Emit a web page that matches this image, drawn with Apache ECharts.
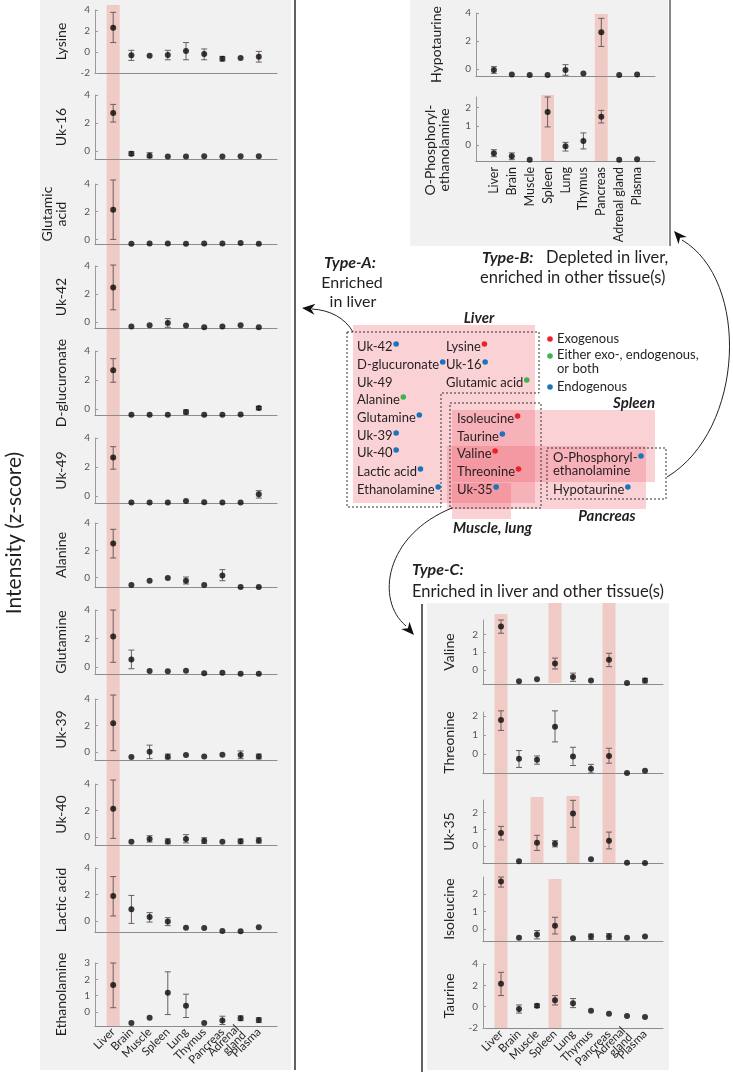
<!DOCTYPE html>
<html><head><meta charset="utf-8">
<script src="https://cdn.jsdelivr.net/npm/echarts@6/dist/echarts.min.js"></script>
<style>html,body{margin:0;padding:0;background:#fff}#c{width:733px;height:1074px}</style>
</head><body><div id="c"></div>
<script>
// ---------------- DATA ----------------
const tissues = ['Liver','Brain','Muscle','Spleen','Lung','Thymus','Pancreas','Adrenal gland','Plasma'];
const tissuesWrapped = ['Liver','Brain','Muscle','Spleen','Lung','Thymus','Pancreas','Adrenal\ngland','Plasma'];

// Type-A (enriched in liver)
const lysine = [2.3,-0.32,-0.35,-0.29,0.1,-0.19,-0.64,-0.58,-0.45];
const lysineErr = [[0.9,3.78],[-0.8,0.16],null,[-0.74,0.16],[-0.74,0.9],[-0.74,0.29],[-0.86,-0.42],null,[-0.96,0.06]];
const uk16 = [2.71,-0.19,-0.33,-0.4,-0.4,-0.38,-0.4,-0.38,-0.38];
const uk16Err = [[2.07,3.33],[-0.33,-0.05],[-0.48,-0.12],null,null,null,null,null,null];
const glutamicAcid = [2.14,-0.31,-0.29,-0.29,-0.31,-0.29,-0.29,-0.26,-0.31];
const glutamicAcidErr = [[0,4.29],null,null,null,null,null,null,null,null];
const uk42 = [2.47,-0.33,-0.24,-0.07,-0.26,-0.38,-0.33,-0.24,-0.38];
const uk42Err = [[0.87,4.07],null,null,[-0.38,0.24],null,null,null,null,null];
const dGlucuronate = [2.67,-0.41,-0.41,-0.41,-0.23,-0.41,-0.41,-0.39,0.05];
const dGlucuronateErr = [[1.84,3.47],null,null,null,[-0.37,-0.07],null,null,null,[-0.07,0.16]];
const uk49 = [2.66,-0.44,-0.44,-0.44,-0.35,-0.42,-0.44,-0.44,0.12];
const uk49Err = [[1.85,3.4],null,null,null,null,null,null,null,[-0.14,0.37]];
const alanine = [2.51,-0.54,-0.22,-0.02,-0.22,-0.54,0.17,-0.68,-0.68];
const alanineErr = [[1.44,3.54],null,null,null,[-0.46,0.05],null,[-0.22,0.59],null,null];
const glutamine = [2.14,0.53,-0.28,-0.3,-0.26,-0.44,-0.4,-0.47,-0.47];
const glutamineErr = [[0.33,4.0],[-0.12,1.19],null,null,null,null,null,null,null];
const uk39 = [2.18,-0.38,0.02,-0.35,-0.22,-0.33,-0.2,-0.22,-0.33];
const uk39Err = [[0.1,4.3],null,[-0.5,0.52],[-0.52,-0.15],null,null,null,[-0.5,0.08],[-0.52,-0.15]];
const uk40 = [2.13,-0.36,-0.15,-0.33,-0.15,-0.28,-0.36,-0.31,-0.26];
const uk40Err = [[-0.1,4.3],null,[-0.38,0.1],[-0.51,-0.13],[-0.44,0.18],[-0.49,-0.05],null,[-0.51,-0.15],[-0.46,-0.05]];
const lacticAcid = [1.88,0.88,0.3,-0.03,-0.5,-0.53,-0.75,-0.78,-0.48];
const lacticAcidErr = [[0.38,3.35],[-0.18,1.93],[-0.08,0.63],[-0.35,0.25],null,null,null,null,null];
const ethanolamine = [1.65,-0.67,-0.36,1.17,0.38,-0.67,-0.53,-0.38,-0.5];
const ethanolamineErr = [[0.26,3.0],null,null,[-0.16,2.46],[-0.34,1.09],null,[-0.77,-0.26],[-0.53,-0.24],[-0.65,-0.36]];

// Type-B (depleted in liver)
const hypotaurine = [-0.07,-0.4,-0.43,-0.43,-0.07,-0.33,2.63,-0.43,-0.4];
const hypotaurineErr = [[-0.31,0.17],null,null,null,[-0.45,0.31],null,[1.61,3.62],null,null];
const oPhospho = [-0.44,-0.6,-0.78,1.75,-0.07,0.21,1.5,-0.78,-0.76];
const oPhosphoErr = [[-0.62,-0.25],[-0.78,-0.42],null,[0.96,2.55],[-0.32,0.14],[-0.21,0.64],[1.17,1.84],null,null];

// Type-C (enriched in liver and other tissues)
const valine = [2.43,-0.63,-0.52,0.37,-0.39,-0.59,0.57,-0.72,-0.59];
const valineErr = [[2.06,2.8],null,null,[0.06,0.67],[-0.63,-0.17],null,[0.19,0.94],null,[-0.72,-0.46]];
const threonine = [1.78,-0.24,-0.29,1.43,-0.12,-0.76,-0.09,-0.98,-0.86];
const threonineErr = [[1.24,2.26],[-0.69,0.19],[-0.52,-0.09],[0.64,2.26],[-0.59,0.36],[-0.98,-0.53],[-0.47,0.31],null,null];
const uk35 = [0.78,-0.9,0.2,0.14,1.94,-0.78,0.33,-0.98,-1.0];
const uk35Err = [[0.37,1.18],null,[-0.25,0.65],[-0.04,0.33],[1.12,2.73],null,[-0.16,0.84],null,null];
const isoleucine = [2.69,-0.48,-0.3,0.19,-0.51,-0.42,-0.42,-0.48,-0.42];
const isoleucineErr = [[2.38,2.95],null,[-0.55,-0.08],[-0.27,0.67],null,[-0.59,-0.27],[-0.59,-0.25],null,null];
const taurine = [2.15,-0.22,0.09,0.6,0.32,-0.38,-0.66,-0.88,-0.98];
const taurineErr = [[1.04,3.22],[-0.6,0.16],[-0.09,0.25],[0.16,1.04],[-0.09,0.76],null,null,null,null];

// Venn diagram content
const vennLiverOnly = ['Uk-42','D-glucuronate','Uk-49','Alanine','Glutamine','Uk-39','Uk-40','Lactic acid','Ethanolamine'];
const vennLiverOnlyOrigin = ['endo','endo',null,'either','endo','endo','endo','endo','endo'];
const vennLiver2 = ['Lysine','Uk-16','Glutamic acid'];
const vennLiver2Origin = ['exo','endo','either'];
const vennShared = ['Isoleucine','Taurine','Valine','Threonine','Uk-35'];
const vennSharedOrigin = ['exo','endo','exo','exo','endo'];
const vennOther = ['O-Phosphoryl-\nethanolamine','Hypotaurine'];
const vennOtherOrigin = ['endo','endo'];
const legendItems = [['exo','Exogenous'],['either','Either exo-, endogenous,\nor both'],['endo','Endogenous']];

// ---------------- LAYOUT ----------------
const FONT = 'Lato, "Open Sans", sans-serif';
const INK = '#231f20';
const ORIGIN_COLOR = {exo:'#e8232b', either:'#3cb44b', endo:'#1b75bc'};
const LEFT = {left:95, width:182};
const TR = {left:476, width:179};
const TC = {left:483, width:180};

const charts = [
  {name:'Lysine', mean:lysine, err:lysineErr, box:LEFT, top:10, bottom:73, min:-2, max:4, ticks:[-2,0,2,4], gap:27},
  {name:'Uk-16', mean:uk16, err:uk16Err, box:LEFT, top:95, bottom:159, min:-0.57, max:4, ticks:[0,2,4], gap:27},
  {name:'Glutamic\nacid', mean:glutamicAcid, err:glutamicAcidErr, box:LEFT, top:184, bottom:244, min:-0.33, max:4, ticks:[0,2,4], gap:27},
  {name:'Uk-42', mean:uk42, err:uk42Err, box:LEFT, top:266, bottom:328, min:-0.43, max:4, ticks:[0,2,4], gap:27},
  {name:'D-glucuronate', mean:dGlucuronate, err:dGlucuronateErr, box:LEFT, top:351, bottom:415, min:-0.43, max:4, ticks:[0,2,4], gap:27},
  {name:'Uk-49', mean:uk49, err:uk49Err, box:LEFT, top:438, bottom:503, min:-0.48, max:4, ticks:[0,2,4], gap:27},
  {name:'Alanine', mean:alanine, err:alanineErr, box:LEFT, top:523, bottom:587, min:-0.68, max:4, ticks:[0,2,4], gap:27},
  {name:'Glutamine', mean:glutamine, err:glutamineErr, box:LEFT, top:610, bottom:674, min:-0.49, max:4, ticks:[0,2,4], gap:27},
  {name:'Uk-39', mean:uk39, err:uk39Err, box:LEFT, top:699, bottom:760, min:-0.6, max:4, ticks:[0,2,4], gap:27},
  {name:'Uk-40', mean:uk40, err:uk40Err, box:LEFT, top:784, bottom:845, min:-0.6, max:4, ticks:[0,2,4], gap:27},
  {name:'Lactic acid', mean:lacticAcid, err:lacticAcidErr, box:LEFT, top:868, bottom:932, min:-0.83, max:4, ticks:[0,2,4], gap:27},
  {name:'Ethanolamine', mean:ethanolamine, err:ethanolamineErr, box:LEFT, top:963, bottom:1026, min:-0.86, max:3, ticks:[0,1,2,3], gap:27, xlab:45},
  {name:'Hypotaurine', mean:hypotaurine, err:hypotaurineErr, box:TR, top:13, bottom:76, min:-0.5, max:4, ticks:[0,2,4], gap:33},
  {name:'O-Phosphoryl-\nethanolamine', mean:oPhospho, err:oPhosphoErr, box:TR, top:97, bottom:161, min:-0.85, max:2.55, ticks:[0,1,2], gap:25, xlab:90, namePad:[0,42,0,0]},
  {name:'Valine', mean:valine, err:valineErr, box:TC, top:620, bottom:684, min:-0.78, max:2.8, ticks:[0,1,2], gap:27},
  {name:'Threonine', mean:threonine, err:threonineErr, box:TC, top:712, bottom:773, min:-0.98, max:2.2, ticks:[0,1,2], gap:27},
  {name:'Uk-35', mean:uk35, err:uk35Err, box:TC, top:800, bottom:863, min:-1.0, max:2.75, ticks:[0,1,2], gap:27},
  {name:'Isoleucine', mean:isoleucine, err:isoleucineErr, box:TC, top:877, bottom:941, min:-0.67, max:2.95, ticks:[0,1,2], gap:27},
  {name:'Taurine', mean:taurine, err:taurineErr, box:TC, top:964, bottom:1028, min:-2, max:4, ticks:[-2,0,2,4], gap:27, xlab:45}
];

// highlight bands: chart index (for x scale), tissue index, y extent
const bands = [
  {chart:0, cat:0, y0:5, y1:1026},
  {chart:12, cat:6, y0:14, y1:161},
  {chart:13, cat:3, y0:95, y1:161},
  {chart:14, cat:0, y0:614, y1:1028},
  {chart:14, cat:3, y0:603, y1:683},
  {chart:14, cat:6, y0:603, y1:863},
  {chart:16, cat:2, y0:797, y1:863},
  {chart:16, cat:4, y0:796, y1:863},
  {chart:17, cat:3, y0:879, y1:1028}
];

// ---------------- BUILD ----------------
const chart = echarts.init(document.getElementById('c'), null, {renderer:'canvas'});
const grid = [], xAxis = [], yAxis = [], series = [];

function renderErr(params, api) {
  const x = api.value(0);
  const p1 = api.coord([x, api.value(1)]);
  const p2 = api.coord([x, api.value(2)]);
  const w = 3;
  const st = {stroke:'#6e5c5c', lineWidth:1};
  return {type:'group', children:[
    {type:'line', shape:{x1:p1[0], y1:p1[1], x2:p2[0], y2:p2[1]}, style:st},
    {type:'line', shape:{x1:p1[0]-w, y1:p1[1], x2:p1[0]+w, y2:p1[1]}, style:st},
    {type:'line', shape:{x1:p2[0]-w, y1:p2[1], x2:p2[0]+w, y2:p2[1]}, style:st}
  ]};
}

charts.forEach((c, i) => {
  grid.push({left:c.box.left, width:c.box.width, top:c.top, height:c.bottom - c.top});
  const labels = c.xlab === 45 ? tissuesWrapped : tissues;
  xAxis.push({
    gridIndex:i, type:'value', min:0, max:10, interval:1,
    axisLine:{show:true, onZero:false, lineStyle:{color:'#8c8c8c', width:1.2}},
    axisTick:{show:false}, splitLine:{show:false},
    axisLabel: c.xlab ? {
      show:true, rotate:c.xlab, margin: c.xlab === 90 ? 6 : 4,
      color:INK, fontFamily:FONT, fontSize: c.xlab === 90 ? 12.5 : 11.5, lineHeight:9.5,
      showMinLabel:false, showMaxLabel:false,
      formatter: v => (v >= 1 && v <= 9) ? labels[v - 1] : ''
    } : {show:false}
  });
  yAxis.push({
    gridIndex:i, type:'value', min:c.min, max:c.max,
    name:c.name, nameLocation:'middle', nameRotate:90, nameGap:c.gap,
    nameTextStyle:{color:INK, fontFamily:FONT, fontSize:14, lineHeight:14, padding:c.namePad || 0},
    axisLine:{show:true, onZero:false, lineStyle:{color:'#9a9a9a', width:1}},
    axisTick:{show:true, inside:true, length:3, customValues:c.ticks, lineStyle:{color:'#9a9a9a'}},
    axisLabel:{show:true, customValues:c.ticks, color:'#555', fontFamily:FONT, fontSize:10, margin:5},
    splitLine:{show:false}
  });
  series.push({
    type:'custom', xAxisIndex:i, yAxisIndex:i, renderItem:renderErr, z:3, silent:true, clip:false,
    data: c.err.map((e, k) => e ? [k + 1, e[0], e[1]] : null).filter(Boolean)
  });
  series.push({
    type:'scatter', xAxisIndex:i, yAxisIndex:i, symbolSize:6, z:4, silent:true, clip:false,
    itemStyle:{color:'#0a0a0a'},
    data: c.mean.map((v, k) => [k + 1, v])
  });
});

chart.setOption({animation:false, grid, xAxis, yAxis, series});

// ---------------- DECORATION ----------------
const G = [];
// panels
G.push({type:'rect', z:-10, shape:{x:40, y:0, width:251, height:1070}, style:{fill:'#f1f1f1'}});
G.push({type:'rect', z:-10, shape:{x:410, y:0, width:258, height:246}, style:{fill:'#f1f1f1'}});
G.push({type:'rect', z:-10, shape:{x:427, y:603, width:242, height:467}, style:{fill:'#f1f1f1'}});
G.push({type:'line', z:-9, shape:{x1:295, y1:0, x2:295, y2:1070}, style:{stroke:'#3a3a3a', lineWidth:1.6}});
G.push({type:'line', z:-9, shape:{x1:670, y1:0, x2:670, y2:246}, style:{stroke:'#6a6a6a', lineWidth:1.6}});
G.push({type:'line', z:-9, shape:{x1:422, y1:604, x2:422, y2:1072}, style:{stroke:'#3a3a3a', lineWidth:1.6}});

// highlight bands from x scale
bands.forEach(b => {
  const cx = chart.convertToPixel({xAxisIndex:b.chart}, b.cat + 1);
  const hw = chart.convertToPixel({xAxisIndex:b.chart}, b.cat + 1.36) - cx;
  G.push({type:'rect', z:-5, shape:{x:cx - hw, y:b.y0, width:2 * hw, height:b.y1 - b.y0}, style:{fill:'#f0cbc6'}});
});

// big axis title
G.push({type:'text', x:14, y:533, rotation:Math.PI / 2, style:{text:'Intensity (z-score)', fill:INK, font:'21px ' + FONT, align:'center', verticalAlign:'middle'}});

function txt(t, x, y, opts) {
  opts = opts || {};
  G.push({type:'text', x, y, z:5, style:{text:t, fill:INK,
    font:(opts.style || '') + ' ' + (opts.weight || '') + ' ' + (opts.size || 13) + 'px ' + FONT,
    align:opts.align || 'left', verticalAlign:'middle', lineHeight:opts.lh || 13}});
}
// type annotations
txt('Type-A:', 350, 263, {style:'italic', weight:'bold', size:16, align:'center'});
txt('Enriched', 352, 283, {size:16, align:'center'});
txt('in liver', 353, 302, {size:16, align:'center'});
txt('Type-B:', 482, 258, {style:'italic', weight:'bold', size:16});
txt('Depleted in liver,', 546, 258, {size:16.5});
txt('enriched in other tissue(s)', 480, 278, {size:16.5});
txt('Type-C:', 412, 570, {style:'italic', weight:'bold', size:16});
txt('Enriched in liver and other tissue(s)', 412, 592, {size:16.5});

// Venn rectangles
const pink = 'rgba(236,80,95,0.26)';
[[353,325,182,178],[452,410,203,72],[447,446,199,63],[452,483,59,36]].forEach(r => {
  G.push({type:'rect', z:1, shape:{x:r[0], y:r[1], width:r[2], height:r[3]}, style:{fill:pink}});
});
const dash = {stroke:'#333', lineWidth:1, lineDash:[2,2], fill:null};
G.push({type:'polygon', z:2, shape:{points:[[347,332],[539,332],[539,393],[441,393],[441,507],[347,507]]}, style:dash});
G.push({type:'rect', z:2, shape:{x:450, y:403, width:91, height:105}, style:dash});
G.push({type:'rect', z:2, shape:{x:547, y:448, width:119, height:51}, style:dash});

// Venn region labels
txt('Liver', 479, 318, {style:'italic', weight:'bold', size:15, align:'center'});
txt('Spleen', 655, 403, {style:'italic', weight:'bold', size:15, align:'right'});
txt('Pancreas', 607, 516, {style:'italic', weight:'bold', size:15, align:'center'});
txt('Muscle, lung', 453, 528, {style:'italic', weight:'bold', size:15});

// names with origin dots
const mctx = document.createElement('canvas').getContext('2d');
mctx.font = '13px ' + FONT;
function nameList(names, origins, x, ys) {
  names.forEach((n, k) => {
    txt(n, x, ys[k], {size:13, lh:13});
    const o = origins[k];
    if (!o) return;
    const lines = n.split('\n');
    const w = mctx.measureText(lines[0]).width;
    G.push({type:'circle', z:6, shape:{cx:x + w + 3.5, cy:ys[k] - (lines.length > 1 ? 8 : 3), r:2.8}, style:{fill:ORIGIN_COLOR[o]}});
  });
}
nameList(vennLiverOnly, vennLiverOnlyOrigin, 357, [347,365,383,400,418,436,453,472,490]);
nameList(vennLiver2, vennLiver2Origin, 446, [347,365,383]);
nameList(vennShared, vennSharedOrigin, 457, [419,437,454,472,490]);
nameList(vennOther, vennOtherOrigin, 553, [464,490]);

// legend
const legY = [339,362,387];
legendItems.forEach((it, k) => {
  G.push({type:'circle', z:6, shape:{cx:550, cy:(k === 1 ? 356 : legY[k]), r:2.8}, style:{fill:ORIGIN_COLOR[it[0]]}});
  txt(it[1], 557, legY[k], {size:13, lh:14});
});

// arrows
function arrow(p0, c1, c2, p1, tip) {
  G.push({type:'bezierCurve', z:3, shape:{x1:p0[0], y1:p0[1], cpx1:c1[0], cpy1:c1[1], cpx2:c2[0], cpy2:c2[1], x2:p1[0], y2:p1[1]}, style:{stroke:'#222', lineWidth:1, fill:null}});
  const dx = tip[0] - p1[0], dy = tip[1] - p1[1], d = Math.hypot(dx, dy);
  const ux = dx / d, uy = dy / d, nx = -uy, ny = ux, L = 13, hw = 5.5;
  const bx = tip[0] - ux * L, by = tip[1] - uy * L;
  G.push({type:'polygon', z:3, shape:{points:[tip, [bx + nx * hw, by + ny * hw], [tip[0] - ux * L * 0.7, tip[1] - uy * L * 0.7], [bx - nx * hw, by - ny * hw]]}, style:{fill:'#111'}});
}
arrow([353,332], [345,318], [330,310], [312,309], [302,308]);
arrow([667,477], [745,430], [750,280], [682,240], [674,231]);
arrow([452,508], [385,535], [375,600], [406,626], [414,635]);

chart.setOption({graphic:{elements:G}});
</script></body></html>
